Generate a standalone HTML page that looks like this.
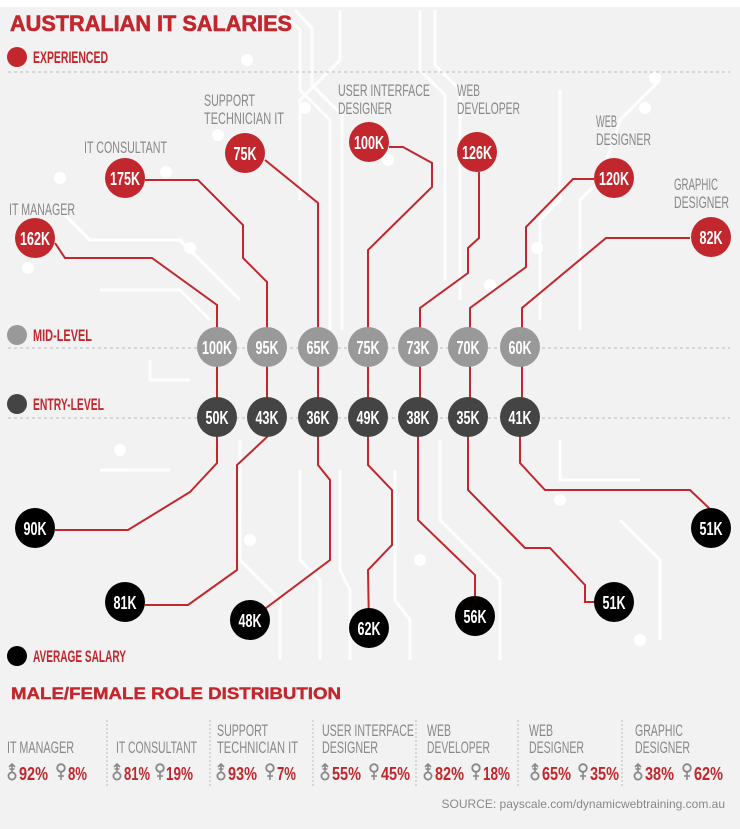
<!DOCTYPE html>
<html><head><meta charset="utf-8"><style>
body{margin:0;width:740px;height:829px;background:#f2f2f2;overflow:hidden;font-family:"Liberation Sans",sans-serif}
svg{position:absolute;left:0;top:0}
</style></head><body>
<svg width="740" height="829" viewBox="0 0 740 829">
<defs>
<g id="m"><circle cx="4" cy="-4" r="3.6" fill="none" stroke="#888" stroke-width="1.8"/><path d="M4 -8 V-16 M1 -13 L4 -16 L7 -13 M1.5 -11 H6.5" stroke="#888" stroke-width="1.6" fill="none"/></g>
<g id="f"><circle cx="4" cy="-12" r="3.8" fill="none" stroke="#888" stroke-width="1.8"/><path d="M4 -8 V0 M1 -4 H7" stroke="#888" stroke-width="1.6" fill="none"/></g>
</defs>
<rect x="0" y="0" width="740" height="7" fill="#fff"/>
<g stroke="#fff" stroke-width="3" fill="none" opacity="0.9">
<path d="M280 10 L300 30 L300 90 L330 120 L330 330"/><path d="M295 10 L312 28 L312 85 L342 115 L342 330"/>
<path d="M340 10 L340 60 L300 100 L300 200"/><path d="M420 10 L420 70 L445 95 L445 280"/>
<path d="M435 10 L435 65 L460 90 L460 300"/><path d="M560 90 L560 200 L540 220 L540 320"/>
<path d="M660 80 L620 120 L600 180 L580 200 L580 330"/><path d="M100 290 L180 290 L210 320"/>
<path d="M60 210 L90 240 L180 240 L240 300"/><path d="M150 360 L150 380 L190 380"/>
<path d="M240 440 L240 560 L280 600 L280 660"/><path d="M300 470 L300 560 L320 580 L320 660"/>
<path d="M340 470 L340 570 L350 590 L350 660"/><path d="M395 470 L395 600 L410 620 L410 660"/>
<path d="M440 440 L440 520 L500 580 L500 660"/><path d="M560 440 L560 480 L640 480"/>
<path d="M100 470 L170 470"/><path d="M620 520 L660 560 L660 640"/>
</g>
<g fill="#fff">
<circle cx="247" cy="60" r="6"/><circle cx="305" cy="108" r="6"/><circle cx="218" cy="135" r="6"/>
<circle cx="166" cy="172" r="6"/><circle cx="60" cy="178" r="6"/><circle cx="190" cy="248" r="6"/>
<circle cx="28" cy="268" r="6"/><circle cx="388" cy="160" r="6"/><circle cx="655" cy="78" r="6"/>
<circle cx="645" cy="108" r="6"/><circle cx="537" cy="248" r="6"/><circle cx="490" cy="285" r="6"/>
<circle cx="250" cy="540" r="6"/><circle cx="420" cy="560" r="6"/><circle cx="560" cy="500" r="6"/>
<circle cx="120" cy="450" r="6"/><circle cx="640" cy="640" r="6"/>
</g>
<g stroke="#bbb" stroke-width="1" stroke-dasharray="3,3">
<line x1="8" y1="72" x2="730" y2="72"/><line x1="8" y1="348" x2="730" y2="348"/><line x1="8" y1="418" x2="730" y2="418"/>
</g>
<g stroke="#c1272d" stroke-width="2" fill="none">
<path d="M55 243 L65 258 L152 258 L217 305 L217 417"/>
<path d="M145 180 L198 180 L243 225 L243 258 L267 282 L267 417"/>
<path d="M265 160 L318 203 L318 417"/>
<path d="M389 147 L403 147 L432 163 L432 187 L368 250 L368 417"/>
<path d="M479 172 L479 238 L468 248 L468 273 L420 308 L420 417"/>
<path d="M594 179 L573 179 L526 227 L526 267 L470 308 L470 417"/>
<path d="M690 238 L606 238 L522 308 L522 417"/>
<path d="M217 417 L217 463 L190 492 L128 530 L55 530"/>
<path d="M267 417 L267 437 L237 465 L237 570 L188 605 L145 605"/>
<path d="M318 417 L318 465 L330 480 L330 560 L250 620"/>
<path d="M368 417 L368 465 L392 490 L392 545 L368 570 L369 628"/>
<path d="M418 417 L418 520 L475 575 L475 616"/>
<path d="M468 417 L468 490 L525 548 L550 548 L585 585 L585 602 L614 602"/>
<path d="M520 417 L520 463 L545 490 L690 490 L711 510"/>
</g>
<g font-weight="bold" font-size="18" text-anchor="middle" fill="#fff">
<g fill="#c1272d"><circle cx="35" cy="238" r="20"/><circle cx="125" cy="178" r="20"/><circle cx="245" cy="153" r="20"/><circle cx="369" cy="142" r="20"/><circle cx="477" cy="152" r="20"/><circle cx="614" cy="178" r="20"/><circle cx="711" cy="237" r="20"/><circle cx="17" cy="57" r="10"/></g>
<g fill="#999"><circle cx="217" cy="347" r="20"/><circle cx="267" cy="347" r="20"/><circle cx="318" cy="347" r="20"/><circle cx="368" cy="347" r="20"/><circle cx="418" cy="347" r="20"/><circle cx="468" cy="347" r="20"/><circle cx="520" cy="347" r="20"/><circle cx="17" cy="335" r="10"/></g>
<g fill="#444"><circle cx="217" cy="417" r="20"/><circle cx="267" cy="417" r="20"/><circle cx="318" cy="417" r="20"/><circle cx="368" cy="417" r="20"/><circle cx="418" cy="417" r="20"/><circle cx="468" cy="417" r="20"/><circle cx="520" cy="417" r="20"/><circle cx="17" cy="404" r="10"/></g>
<g fill="#000"><circle cx="35" cy="528" r="20"/><circle cx="125" cy="602" r="20"/><circle cx="250" cy="620" r="20"/><circle cx="369" cy="628" r="20"/><circle cx="475" cy="616" r="20"/><circle cx="614" cy="602" r="20"/><circle cx="711" cy="528" r="20"/><circle cx="17" cy="656" r="10"/></g>
<text x="35" y="245" textLength="30" lengthAdjust="spacingAndGlyphs">162K</text><text x="125" y="185" textLength="30" lengthAdjust="spacingAndGlyphs">175K</text><text x="245" y="160" textLength="23" lengthAdjust="spacingAndGlyphs">75K</text><text x="369" y="149" textLength="30" lengthAdjust="spacingAndGlyphs">100K</text><text x="477" y="159" textLength="30" lengthAdjust="spacingAndGlyphs">126K</text><text x="614" y="185" textLength="30" lengthAdjust="spacingAndGlyphs">120K</text><text x="711" y="244" textLength="23" lengthAdjust="spacingAndGlyphs">82K</text>
<text x="217" y="354" textLength="30" lengthAdjust="spacingAndGlyphs">100K</text><text x="267" y="354" textLength="23" lengthAdjust="spacingAndGlyphs">95K</text><text x="318" y="354" textLength="23" lengthAdjust="spacingAndGlyphs">65K</text><text x="368" y="354" textLength="23" lengthAdjust="spacingAndGlyphs">75K</text><text x="418" y="354" textLength="23" lengthAdjust="spacingAndGlyphs">73K</text><text x="468" y="354" textLength="23" lengthAdjust="spacingAndGlyphs">70K</text><text x="520" y="354" textLength="23" lengthAdjust="spacingAndGlyphs">60K</text>
<text x="217" y="424" textLength="23" lengthAdjust="spacingAndGlyphs">50K</text><text x="267" y="424" textLength="23" lengthAdjust="spacingAndGlyphs">43K</text><text x="318" y="424" textLength="23" lengthAdjust="spacingAndGlyphs">36K</text><text x="368" y="424" textLength="23" lengthAdjust="spacingAndGlyphs">49K</text><text x="418" y="424" textLength="23" lengthAdjust="spacingAndGlyphs">38K</text><text x="468" y="424" textLength="23" lengthAdjust="spacingAndGlyphs">35K</text><text x="520" y="424" textLength="23" lengthAdjust="spacingAndGlyphs">41K</text>
<text x="35" y="535" textLength="23" lengthAdjust="spacingAndGlyphs">90K</text><text x="125" y="609" textLength="23" lengthAdjust="spacingAndGlyphs">81K</text><text x="250" y="627" textLength="23" lengthAdjust="spacingAndGlyphs">48K</text><text x="369" y="635" textLength="23" lengthAdjust="spacingAndGlyphs">62K</text><text x="475" y="623" textLength="23" lengthAdjust="spacingAndGlyphs">56K</text><text x="614" y="609" textLength="23" lengthAdjust="spacingAndGlyphs">51K</text><text x="711" y="535" textLength="23" lengthAdjust="spacingAndGlyphs">51K</text>
</g>
<text x="10" y="31" font-weight="bold" font-size="22" fill="#c1272d" stroke="#c1272d" stroke-width="0.6" textLength="282" lengthAdjust="spacingAndGlyphs">AUSTRALIAN IT SALARIES</text>
<g font-size="17" font-weight="bold" fill="#c1272d">
<text x="33" y="63" textLength="75" lengthAdjust="spacingAndGlyphs">EXPERIENCED</text>
<text x="33" y="341" textLength="59" lengthAdjust="spacingAndGlyphs">MID-LEVEL</text>
<text x="33" y="410" textLength="71" lengthAdjust="spacingAndGlyphs">ENTRY-LEVEL</text>
<text x="33" y="662" textLength="93" lengthAdjust="spacingAndGlyphs">AVERAGE SALARY</text>
</g>
<g font-size="17" fill="#888">
<text x="9" y="215" textLength="66" lengthAdjust="spacingAndGlyphs">IT MANAGER</text><text x="84" y="153" textLength="83" lengthAdjust="spacingAndGlyphs">IT CONSULTANT</text>
<text x="204" y="106" textLength="51" lengthAdjust="spacingAndGlyphs">SUPPORT</text><text x="204" y="124" textLength="80" lengthAdjust="spacingAndGlyphs">TECHNICIAN IT</text>
<text x="338" y="96" textLength="92" lengthAdjust="spacingAndGlyphs">USER INTERFACE</text><text x="338" y="114" textLength="54" lengthAdjust="spacingAndGlyphs">DESIGNER</text>
<text x="457" y="96" textLength="23" lengthAdjust="spacingAndGlyphs">WEB</text><text x="457" y="114" textLength="63" lengthAdjust="spacingAndGlyphs">DEVELOPER</text>
<text x="596" y="127" textLength="21" lengthAdjust="spacingAndGlyphs">WEB</text><text x="596" y="145" textLength="55" lengthAdjust="spacingAndGlyphs">DESIGNER</text>
<text x="674" y="190" textLength="44" lengthAdjust="spacingAndGlyphs">GRAPHIC</text><text x="674" y="208" textLength="55" lengthAdjust="spacingAndGlyphs">DESIGNER</text>
</g>
<text x="11" y="699" font-weight="bold" font-size="17" fill="#c1272d" stroke="#c1272d" stroke-width="0.4" textLength="330" lengthAdjust="spacingAndGlyphs">MALE/FEMALE ROLE DISTRIBUTION</text>
<g stroke="#bbb" stroke-dasharray="2,2"><line x1="107" y1="720" x2="107" y2="788"/><line x1="210" y1="720" x2="210" y2="788"/><line x1="313" y1="720" x2="313" y2="788"/><line x1="416" y1="720" x2="416" y2="788"/><line x1="518" y1="720" x2="518" y2="788"/><line x1="622" y1="720" x2="622" y2="788"/></g>
<g font-size="17" fill="#888">
<text x="7" y="753" textLength="67" lengthAdjust="spacingAndGlyphs">IT MANAGER</text>
<text x="116" y="753" textLength="81" lengthAdjust="spacingAndGlyphs">IT CONSULTANT</text>
<text x="217" y="736" textLength="51" lengthAdjust="spacingAndGlyphs">SUPPORT</text><text x="217" y="753" textLength="81" lengthAdjust="spacingAndGlyphs">TECHNICIAN IT</text>
<text x="322" y="736" textLength="92" lengthAdjust="spacingAndGlyphs">USER INTERFACE</text><text x="322" y="753" textLength="56" lengthAdjust="spacingAndGlyphs">DESIGNER</text>
<text x="427" y="736" textLength="24" lengthAdjust="spacingAndGlyphs">WEB</text><text x="427" y="753" textLength="63" lengthAdjust="spacingAndGlyphs">DEVELOPER</text>
<text x="529" y="736" textLength="24" lengthAdjust="spacingAndGlyphs">WEB</text><text x="529" y="753" textLength="55" lengthAdjust="spacingAndGlyphs">DESIGNER</text>
<text x="635" y="736" textLength="48" lengthAdjust="spacingAndGlyphs">GRAPHIC</text><text x="635" y="753" textLength="55" lengthAdjust="spacingAndGlyphs">DESIGNER</text>
</g>
<g font-size="18" font-weight="bold" fill="#c1272d">
<use href="#m" x="8" y="780"/><text x="19" y="780" textLength="29" lengthAdjust="spacingAndGlyphs">92%</text><use href="#f" x="57" y="780"/><text x="68" y="780" textLength="19" lengthAdjust="spacingAndGlyphs">8%</text>
<use href="#m" x="113" y="780"/><text x="124" y="780" textLength="26" lengthAdjust="spacingAndGlyphs">81%</text><use href="#f" x="156" y="780"/><text x="166" y="780" textLength="27" lengthAdjust="spacingAndGlyphs">19%</text>
<use href="#m" x="217" y="780"/><text x="228" y="780" textLength="29" lengthAdjust="spacingAndGlyphs">93%</text><use href="#f" x="266" y="780"/><text x="277" y="780" textLength="19" lengthAdjust="spacingAndGlyphs">7%</text>
<use href="#m" x="321" y="780"/><text x="332" y="780" textLength="29" lengthAdjust="spacingAndGlyphs">55%</text><use href="#f" x="370" y="780"/><text x="381" y="780" textLength="29" lengthAdjust="spacingAndGlyphs">45%</text>
<use href="#m" x="424" y="780"/><text x="435" y="780" textLength="29" lengthAdjust="spacingAndGlyphs">82%</text><use href="#f" x="472" y="780"/><text x="483" y="780" textLength="27" lengthAdjust="spacingAndGlyphs">18%</text>
<use href="#m" x="531" y="780"/><text x="542" y="780" textLength="29" lengthAdjust="spacingAndGlyphs">65%</text><use href="#f" x="579" y="780"/><text x="590" y="780" textLength="29" lengthAdjust="spacingAndGlyphs">35%</text>
<use href="#m" x="634" y="780"/><text x="645" y="780" textLength="29" lengthAdjust="spacingAndGlyphs">38%</text><use href="#f" x="683" y="780"/><text x="694" y="780" textLength="29" lengthAdjust="spacingAndGlyphs">62%</text>
</g>
<text x="725" y="808" text-anchor="end" font-size="12" fill="#888">SOURCE: payscale.com/dynamicwebtraining.com.au</text>
</svg>
</body></html>
